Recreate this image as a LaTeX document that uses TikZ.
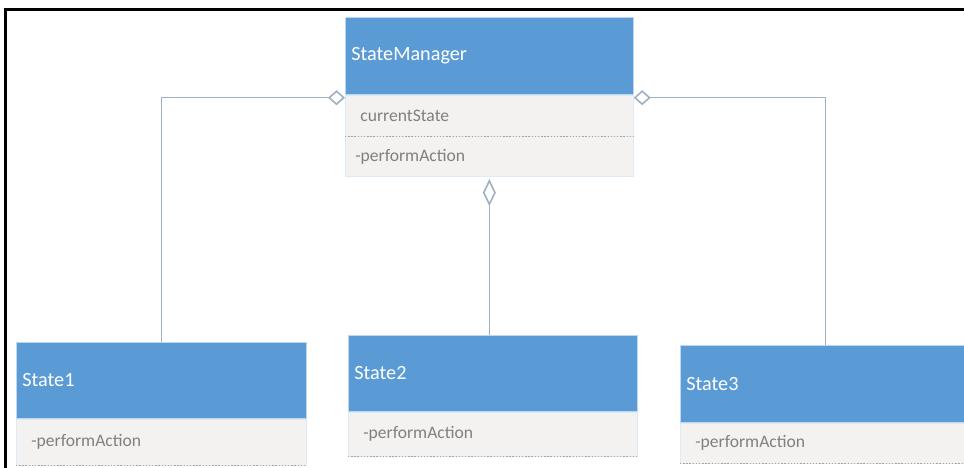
\documentclass[tikz,border=0pt]{standalone}
\usepackage{fontspec}
\setmainfont{Carlito}
\usepackage{tikz}
\usetikzlibrary{positioning,arrows.meta}

\definecolor{hdrblue}{HTML}{5B9BD5}
\definecolor{edgeblue}{HTML}{BDD7EE}
\definecolor{cmpfill}{HTML}{F3F2F0}
\definecolor{membgray}{HTML}{808080}
\definecolor{linkgray}{HTML}{9FB0C0}

\begin{document}
\begin{tikzpicture}[
            % header of a class box (blue bar with the class name)
            hdr/.style={draw=edgeblue, fill=hdrblue, text=white, anchor=north west,
                inner xsep=0.12cm, inner ysep=0pt, align=left,
                font=\fontsize{11.5}{13}\selectfont},
            % compartment holding attributes / operations
            memb/.style={draw=edgeblue!50, fill=cmpfill, text=membgray, anchor=north west,
                inner xsep=0.3cm, inner ysep=0pt, align=left,
                font=\fontsize{10}{12}\selectfont},
            % dotted separator under a compartment
            sepline/.style={gray!70, densely dotted, line width=0.8pt},
            % aggregation link, open diamond at the owner
            agg/.style={{Diamond[fill=white, length=0.34cm, width=0.3cm]}-, linkgray, line width=0.9pt}
        ]
            \useasboundingbox (0,0) rectangle (19.28,-9.36);

            % --- 1. FRAME ---
            \draw[line width=0.06cm] (0.12,-9.36) |- (19.28,-0.2);

            % --- 2. STATEMANAGER ---
            \node[hdr, text width=5.52cm, minimum height=1.54cm] (mgr) at (6.90,-0.34) {StateManager};
            \node[memb, text width=5.16cm, minimum height=0.82cm] (mgrAttr) at (mgr.south west) {currentState};
            \node[memb, text width=5.36cm, inner xsep=0.2cm, minimum height=0.80cm] (mgrOps) at (mgrAttr.south west) {-performAction};
            \draw[sepline] (mgrAttr.south west) -- (mgrAttr.south east);

            % --- 3. STATES ---
            \node[hdr, text width=5.56cm, minimum height=1.52cm] (st1) at (0.32,-6.84) {State1};
            \node[memb, text width=5.20cm, minimum height=0.92cm] (st1Ops) at (st1.south west) {-performAction};

            \node[hdr, text width=5.54cm, minimum height=1.52cm] (st2) at (6.96,-6.70) {State2};
            \node[memb, text width=5.18cm, minimum height=0.88cm] (st2Ops) at (st2.south west) {-performAction};

            \node[hdr, text width=5.56cm, minimum height=1.54cm] (st3) at (13.60,-6.90) {State3};
            \node[memb, text width=5.20cm, minimum height=0.80cm] (st3Ops) at (st3.south west) {-performAction};

            \draw[sepline] (st1Ops.south west) -- (st1Ops.south east);
            \draw[sepline] (st2Ops.south west) -- (st2Ops.south east);
            \draw[sepline] (st3Ops.south west) -- (st3Ops.south east);

            % --- 4. AGGREGATIONS ---
            \draw[agg] ([yshift=-0.06cm]mgrAttr.north west) -| (st1.north);
            \draw[agg] ([yshift=-0.06cm]mgrAttr.north east) -| (st3.north);
            \draw[{Diamond[fill=white, length=0.54cm, width=0.26cm]}-, linkgray, line width=0.9pt]
                ([yshift=-0.04cm]mgrOps.south) -- (mgrOps.south |- st2.north);

        \end{tikzpicture}
\end{document}
